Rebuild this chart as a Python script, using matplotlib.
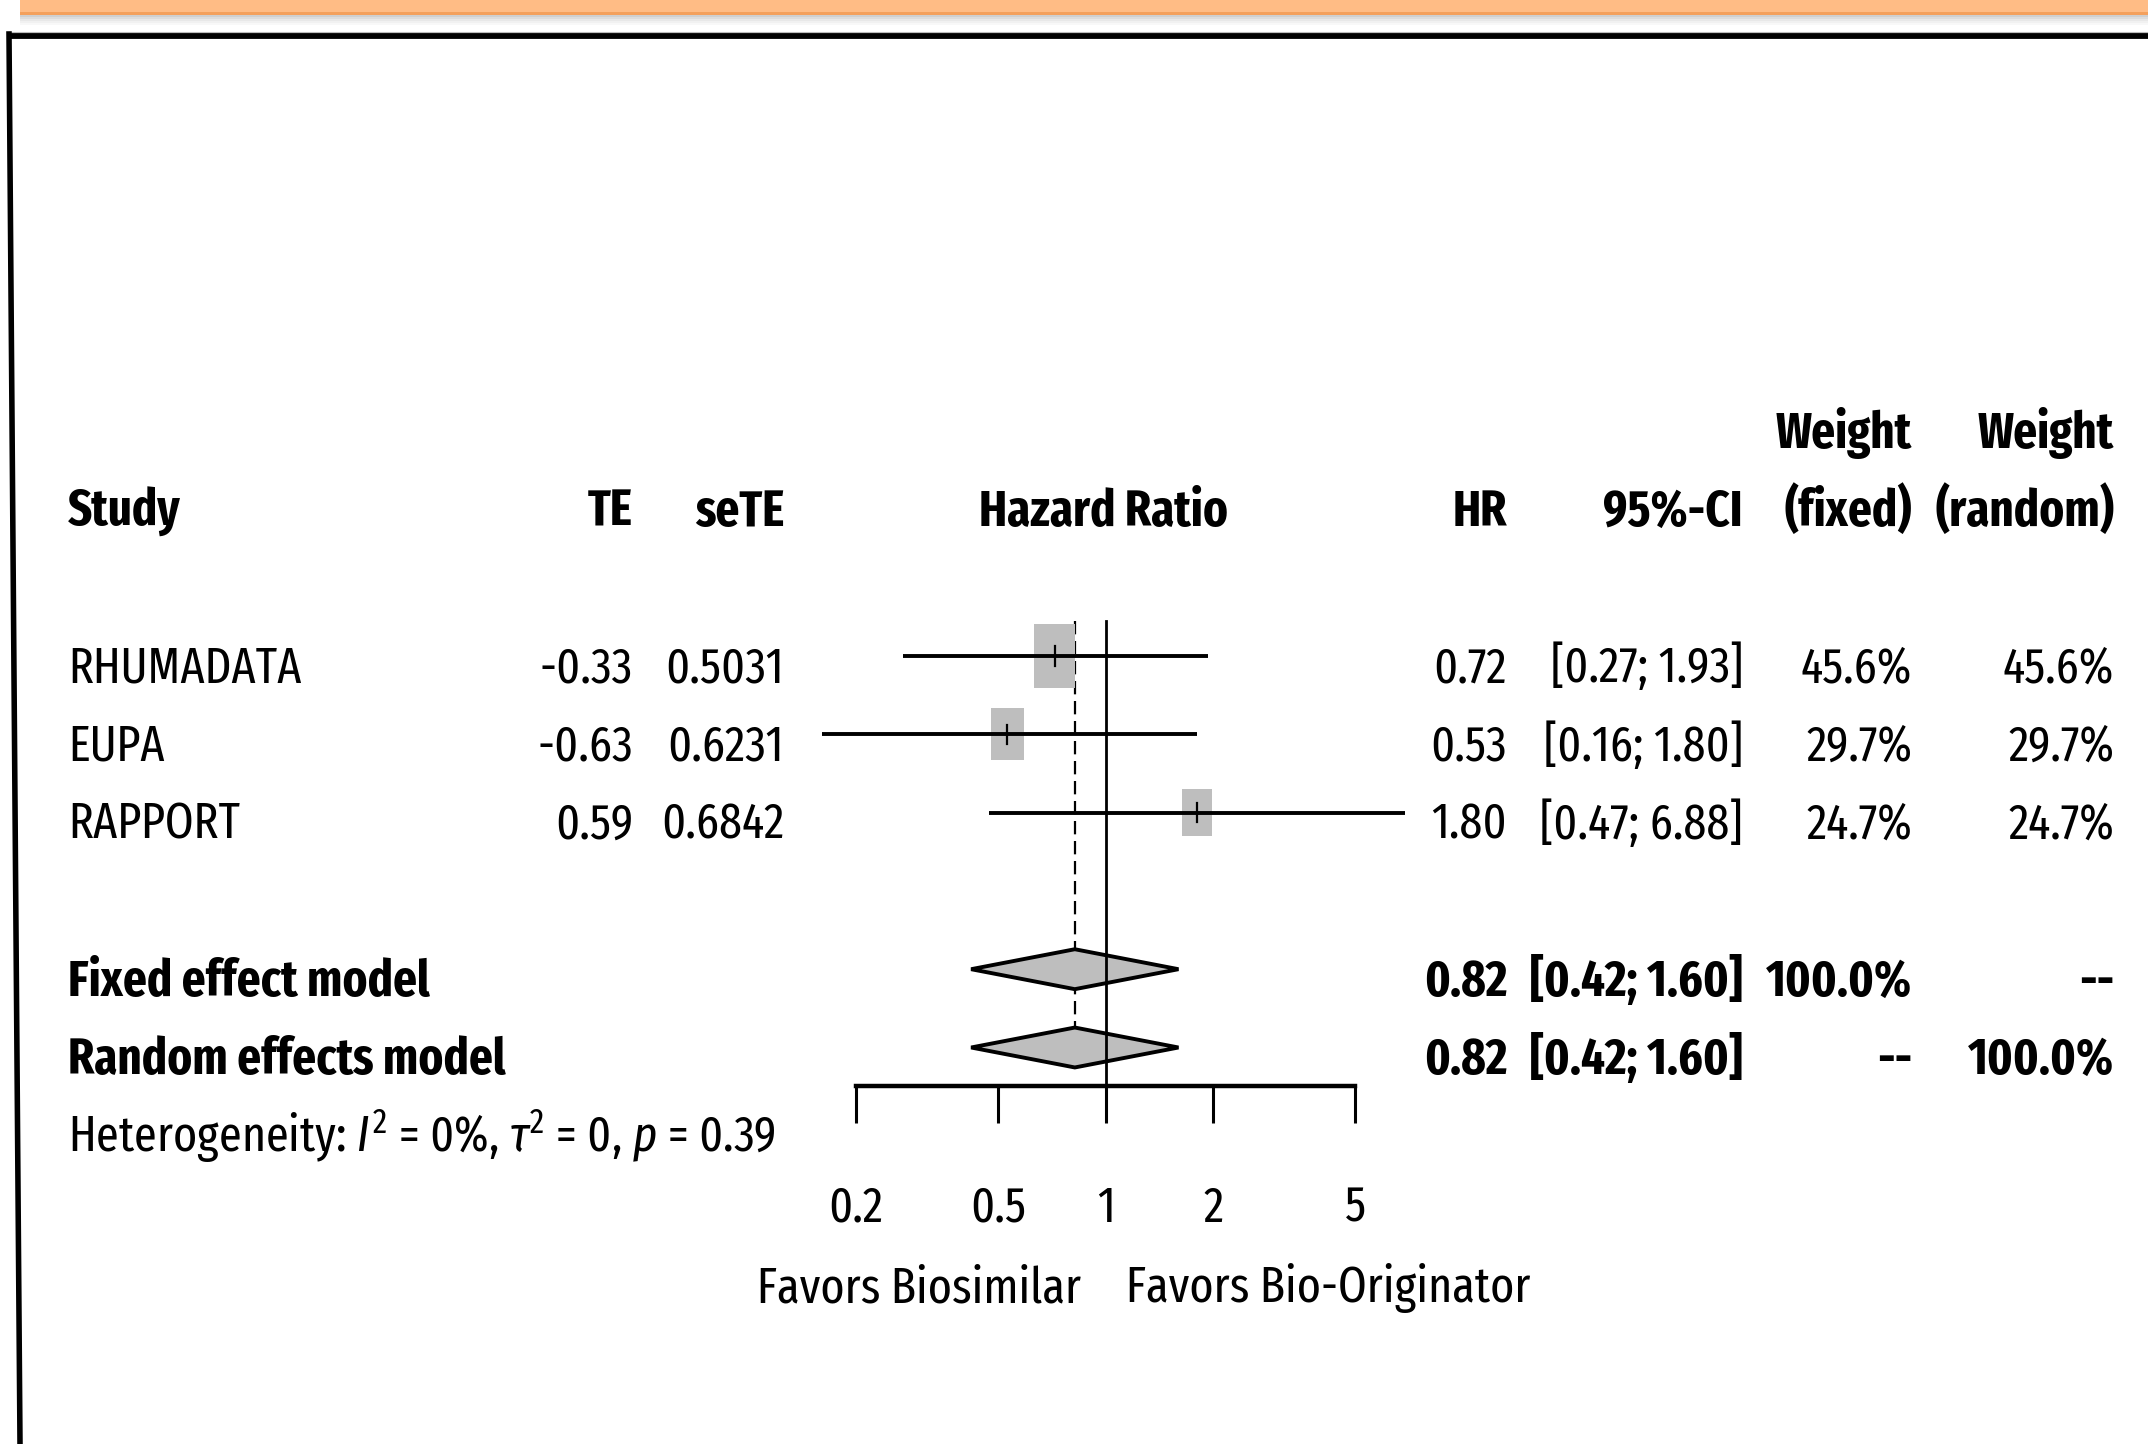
import numpy as np
import matplotlib
matplotlib.use("Agg")
import matplotlib.pyplot as plt
from matplotlib import font_manager
from matplotlib.font_manager import FontProperties
from matplotlib.textpath import TextPath
from matplotlib.patches import Rectangle, Polygon
from matplotlib.ticker import NullLocator

# data
studies = ["RHUMADATA", "EUPA", "RAPPORT"]
te = [-0.33, -0.63, 0.59]
se_te = [0.5031, 0.6231, 0.6842]
hr = [0.72, 0.53, 1.80]
ci_low = [0.27, 0.16, 0.47]
ci_high = [1.93, 1.80, 6.88]
w_fixed = [45.6, 29.7, 24.7]
w_random = [45.6, 29.7, 24.7]

pooled_labels = ["Fixed effect model", "Random effects model"]
pooled_hr = [0.82, 0.82]
pooled_low = [0.42, 0.42]
pooled_high = [1.60, 1.60]
pooled_wf = ["100.0%", "--"]
pooled_wr = ["--", "100.0%"]

ticks = [0.2, 0.5, 1, 2, 5]
tick_labels = ["0.2", "0.5", "1", "2", "5"]

# pick a condensed face, size it to the reference text
names = {f.name for f in font_manager.fontManager.ttflist}
fam = "Liberation Sans"
for c in ["Fira Sans Extra Condensed", "Barlow Condensed", "Roboto Condensed"]:
    if c in names:
        fam = c
        break
plt.rcParams["font.family"] = fam
plt.rcParams["mathtext.fontset"] = "custom"
plt.rcParams["mathtext.rm"] = fam
plt.rcParams["mathtext.it"] = fam + ":italic"


def extent(s, weight="normal"):
    return TextPath((0, 0), s, size=100, prop=FontProperties(family=fam, weight=weight)).get_extents()


def fit(s, target, weight="normal"):
    return target / (extent(s, weight).width / 100 * 100 / 72)


cap_ratio = extent("H").height / 100
fs_h = 47 / (cap_ratio * 100 / 72)
fs = min(fs_h, fit("RHUMADATA", 265), fit("[0.27; 1.93]", 210), fit("0.5031", 132),
         fit("Favors Bio-Originator", 400), fit("45.6%", 122))
fs_b = min(fs_h, fit("Random effects model", 455, "bold"), fit("[0.42; 1.60]", 214, "bold"),
           fit("(random)", 182, "bold"), fit("Hazard Ratio", 262, "bold"), fit("100.0%", 145, "bold"))
cap = cap_ratio * fs * 100 / 72
cap_b = extent("H", "bold").height / 100 * fs_b * 100 / 72

W, H = 2148, 1444
X1 = 1105.6      # pixel of HR = 1
K = 155.0        # pixels per ln unit
ROW1 = 656.0     # pixel of first study row
DY = 78.3        # pixels per row


def ypx(r):
    return ROW1 + (r - 1) * DY


def base(r, c=None):
    return ypx(r) + 9 + (cap if c is None else c) / 2


fig = plt.figure(figsize=(W / 100, H / 100), dpi=100)
bg = fig.add_axes([0, 0, 1, 1])
bg.set_xlim(0, W)
bg.set_ylim(H, 0)
bg.axis("off")

# slide decoration: orange band and black frame
bg.add_patch(Rectangle((20, 0), W - 20, 12, fc="#FFBC85", ec="none"))
bg.add_patch(Rectangle((20, 12), W - 20, 3, fc="#F4A05C", ec="none"))
for i, a in enumerate([0.35, 0.25, 0.17, 0.1, 0.05]):
    bg.add_patch(Rectangle((20, 15 + 2 * i), W - 20, 2, fc="#777777", ec="none", alpha=a))
bg.plot([7, W], [32, 32], color="#BBBBBB", lw=0.8)
bg.plot([7, W], [36, 36], color="black", lw=4.2, solid_capstyle="butt")
bg.plot([9, 20], [34, H], color="black", lw=4.0)

# forest panel
xmin, xmax = 0.1, 10
ytop, ybot = 0.3, 6.49
left = X1 + K * np.log(xmin)
right = X1 + K * np.log(xmax)
ax = fig.add_axes([left / W, 1 - ypx(ybot) / H, (right - left) / W, (ypx(ybot) - ypx(ytop)) / H])
ax.set_facecolor("none")
ax.set_xscale("log")
ax.set_xlim(xmin, xmax)
ax.set_ylim(ybot, ytop)

grey = "#BEBEBE"
for i in range(len(studies)):
    r = i + 1
    h_px = 9.48 * np.sqrt(w_fixed[i])
    w_px = 0.64 * h_px
    x0 = hr[i] * np.exp(-w_px / 2 / K)
    x1 = hr[i] * np.exp(w_px / 2 / K)
    ax.add_patch(Rectangle((x0, r - h_px / 2 / DY), x1 - x0, h_px / DY,
                           fc=grey, ec="none", zorder=2))
    ax.plot([ci_low[i], ci_high[i]], [r, r], color="black", lw=2.8, zorder=3,
            solid_capstyle="butt", clip_on=False)
    ax.plot([hr[i], hr[i]], [r - 0.125, r + 0.125], color="black", lw=1.6, zorder=3)

dh = 0.255
for j in range(2):
    r = 5 + j
    pts = [(pooled_low[j], r), (pooled_hr[j], r - dh), (pooled_high[j], r), (pooled_hr[j], r + dh)]
    ax.add_patch(Polygon(pts, closed=True, fc=grey, ec="black", lw=2.8, zorder=4))

ax.plot([pooled_hr[0], pooled_hr[0]], [0.553, 6 - dh], color="black", lw=1.6,
        ls=(0, (6, 3)), zorder=1)
ax.plot([1, 1], [0.553, ybot], color="black", lw=2.0, zorder=5, clip_on=False)

for s in ["left", "top", "right"]:
    ax.spines[s].set_visible(False)
ax.spines["bottom"].set_bounds(ticks[0], ticks[-1])
ax.spines["bottom"].set_linewidth(3.2)
ax.set_yticks([])
ax.set_xticks(ticks)
ax.set_xticklabels(tick_labels)
ax.xaxis.set_minor_locator(NullLocator())
ax.tick_params(axis="x", direction="out", length=26.6, width=2.2, pad=44, labelsize=fs)

# column headers
hb = dict(fontsize=fs_b, fontweight="bold", va="baseline")
yh1, yh2 = base(-1, cap_b), base(-2, cap_b)
bg.text(68, yh1, "Study", ha="left", **hb)
bg.text(633, yh1, "TE", ha="right", **hb)
bg.text(784, yh1, "seTE", ha="right", **hb)
bg.text(X1 - 2, yh1, "Hazard Ratio", ha="center", **hb)
bg.text(1507, yh1, "HR", ha="right", **hb)
bg.text(1743, yh1, "95%-CI", ha="right", **hb)
bg.text(1912, yh2, "Weight", ha="right", **hb)
bg.text(1912, yh1, "(fixed)", ha="right", **hb)
bg.text(2114, yh2, "Weight", ha="right", **hb)
bg.text(2114, yh1, "(random)", ha="right", **hb)

# study rows
tb = dict(fontsize=fs, va="baseline")
for i in range(len(studies)):
    y = base(i + 1)
    bg.text(68, y, studies[i], ha="left", **tb)
    bg.text(633, y, f"{te[i]:.2f}", ha="right", **tb)
    bg.text(784, y, f"{se_te[i]:.4f}", ha="right", **tb)
    bg.text(1507, y, f"{hr[i]:.2f}", ha="right", **tb)
    bg.text(1743, y, f"[{ci_low[i]:.2f}; {ci_high[i]:.2f}]", ha="right", **tb)
    bg.text(1912, y, f"{w_fixed[i]:.1f}%", ha="right", **tb)
    bg.text(2114, y, f"{w_random[i]:.1f}%", ha="right", **tb)

# pooled rows
for j in range(2):
    y = base(5 + j, cap_b)
    bg.text(68, y, pooled_labels[j], ha="left", **hb)
    bg.text(1507, y, f"{pooled_hr[j]:.2f}", ha="right", **hb)
    bg.text(1743, y, f"[{pooled_low[j]:.2f}; {pooled_high[j]:.2f}]", ha="right", **hb)
    bg.text(1912, y, pooled_wf[j], ha="right", **hb)
    bg.text(2114, y, pooled_wr[j], ha="right", **hb)

bg.text(68, base(7), r"Heterogeneity: $I^2$ = 0%, $\tau^2$ = 0, $p$ = 0.39", ha="left", **tb)

bg.text(X1 - 24, base(8.92), "Favors Biosimilar", ha="right", **tb)
bg.text(X1 + 20, base(8.92), "Favors Bio-Originator", ha="left", **tb)

fig.savefig("out.png", dpi=100)
